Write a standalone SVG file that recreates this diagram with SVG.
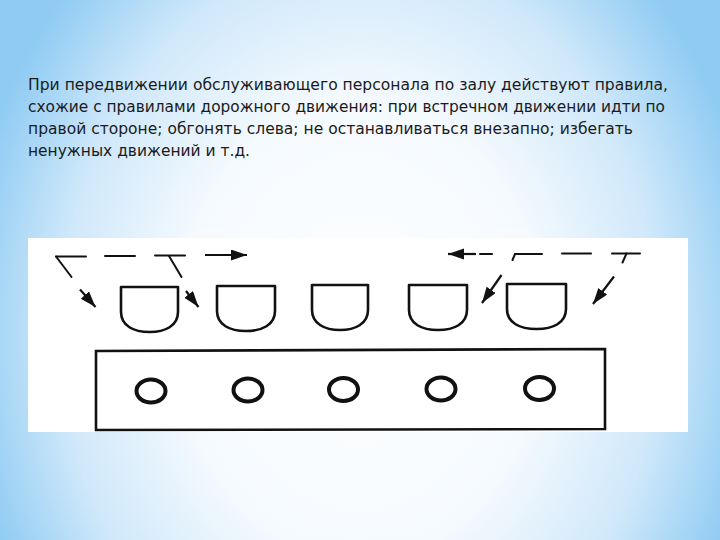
<svg xmlns="http://www.w3.org/2000/svg" width="720" height="540" viewBox="0 0 720 540">
  <defs>
    <radialGradient id="bg" gradientUnits="userSpaceOnUse" cx="360" cy="330" r="400" gradientTransform="translate(360 330) scale(1 1.25) translate(-360 -330)">
      <stop offset="0" stop-color="#ffffff"/>
      <stop offset="0.45" stop-color="#f5fafe"/>
      <stop offset="0.75" stop-color="#cfe8fa"/>
      <stop offset="1" stop-color="#8fcbf3"/>
    </radialGradient>
    <marker id="ah" markerUnits="userSpaceOnUse" markerWidth="18" markerHeight="12" refX="16" refY="5.5" orient="auto">
      <path d="M0,0 L16,5.5 L0,11 Z" fill="#111"/>
    </marker>
    <style>
      .txt { font-family: "DejaVu Sans", "Liberation Sans", sans-serif; font-size: 15px; fill: #1b1b1b; }
      .chair { fill: none; stroke: #111; stroke-width: 2.6; stroke-linejoin: round; }
      .table { fill: none; stroke: #111; stroke-width: 2.6; }
      .plate { fill: none; stroke: #111; stroke-width: 4; }
      .dash { fill: none; stroke: #111; stroke-width: 2; stroke-linecap: round; }
      .arr { fill: none; stroke: #111; stroke-width: 2.2; marker-end: url(#ah); }
    </style>
  </defs>

  <rect x="0" y="0" width="720" height="540" fill="url(#bg)"/>

  <g id="caption">
    <text class="txt" x="28" y="90" textLength="640" lengthAdjust="spacingAndGlyphs">При передвижении обслуживающего персонала по залу действуют правила,</text>
    <text class="txt" x="28" y="112" textLength="637" lengthAdjust="spacingAndGlyphs">схожие с правилами дорожного движения: при встречном движении идти по</text>
    <text class="txt" x="28" y="134" textLength="605" lengthAdjust="spacingAndGlyphs">правой стороне; обгонять слева; не останавливаться внезапно; избегать</text>
    <text class="txt" x="28" y="156" textLength="222" lengthAdjust="spacingAndGlyphs">ненужных движений и т.д.</text>
  </g>

  <rect id="figure-bg" x="28" y="238" width="660" height="194" fill="#ffffff"/>

  <g id="chair-1"><path class="chair" d="M121,287 H178 V312 C178,326 165,332 149.5,332 C134,332 121,326 121,312 Z"/></g>
  <g id="chair-2"><path class="chair" d="M217,286 H275 V311 C275,325 262,331 246,331 C230,331 217,325 217,311 Z"/></g>
  <g id="chair-3"><path class="chair" d="M312,285 H368 V310 C368,324 355,330 340,330 C325,330 312,324 312,310 Z"/></g>
  <g id="chair-4"><path class="chair" d="M409,285 H467 V310 C467,324 454,330 438,330 C422,330 409,324 409,310 Z"/></g>
  <g id="chair-5"><path class="chair" d="M507,284 H566 V309 C566,323 553,329 536.5,329 C520,329 507,323 507,309 Z"/></g>

  <g id="table">
    <path class="table" d="M96,351 L605,349 L605,429 L96,430 Z"/>
  </g>
  <g id="plate-1"><ellipse class="plate" cx="151" cy="391" rx="14.5" ry="11.5"/></g>
  <g id="plate-2"><ellipse class="plate" cx="248" cy="390" rx="14.5" ry="11.5"/></g>
  <g id="plate-3"><ellipse class="plate" cx="343.5" cy="389.5" rx="14.5" ry="11.5"/></g>
  <g id="plate-4"><ellipse class="plate" cx="441" cy="389" rx="14.5" ry="11.5"/></g>
  <g id="plate-5"><ellipse class="plate" cx="539.5" cy="388.5" rx="14.5" ry="11.5"/></g>

  <g id="connectors">
    <!-- left route -->
    <path class="dash" d="M56,256.5 H86"/>
    <path class="dash" d="M56,256.5 L71.5,277"/>
    <path class="arr" d="M80,289.5 L95.5,307"/>
    <path class="dash" d="M105,256 H135"/>
    <path class="dash" d="M155,255.5 H185"/>
    <path class="dash" d="M169,256 L181.5,277"/>
    <path class="arr" d="M186,291 L198.5,307"/>
    <path class="arr" d="M205,255 H247"/>
    <!-- right route -->
    <path class="arr" d="M476,254 H448"/>
    <path class="dash" d="M480,254 H492"/>
    <path class="dash" d="M512.5,260 L515,254 H542"/>
    <path class="dash" d="M562,253.5 H591"/>
    <path class="dash" d="M612,253.5 H640"/>
    <path class="dash" d="M622.5,262.5 L626.5,253.5"/>
    <path class="arr" d="M501.5,275 L482,303"/>
    <path class="arr" d="M614,276.5 L593,304"/>
  </g>
</svg>
